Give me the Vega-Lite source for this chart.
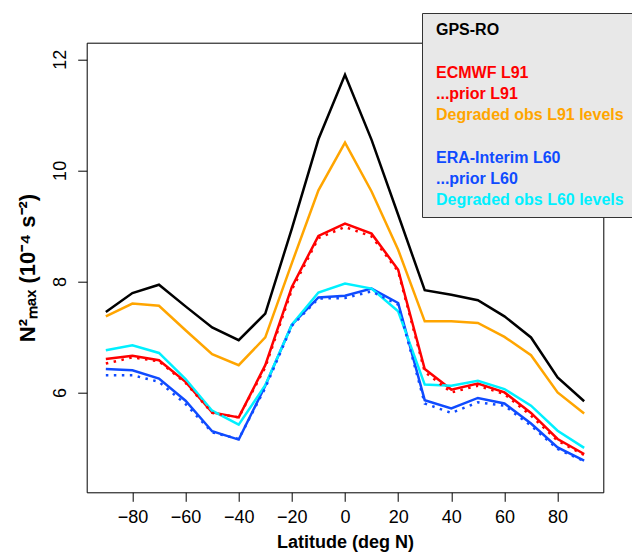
{
  "$schema": "https://vega.github.io/schema/vega-lite/v6.json",
  "width": 516.6,
  "height": 449.6,
  "autosize": {"type": "none"},
  "padding": {"left": 86.7, "top": 42.7, "right": 28.7, "bottom": 61.7},
  "background": "white",
  "config": {"view": {"stroke": "black", "strokeWidth": 1}, "font": "Liberation Sans"},
  "data": {"values": [
    {"lat":-90,"s":"GPS-RO","v":7.45},{"lat":-80,"s":"GPS-RO","v":7.79},{"lat":-70,"s":"GPS-RO","v":7.94},{"lat":-60,"s":"GPS-RO","v":7.55},{"lat":-50,"s":"GPS-RO","v":7.17},{"lat":-40,"s":"GPS-RO","v":6.94},{"lat":-30,"s":"GPS-RO","v":7.42},{"lat":-20,"s":"GPS-RO","v":8.95},{"lat":-10,"s":"GPS-RO","v":10.56},{"lat":0,"s":"GPS-RO","v":11.72},{"lat":10,"s":"GPS-RO","v":10.55},{"lat":20,"s":"GPS-RO","v":9.2},{"lat":30,"s":"GPS-RO","v":7.84},{"lat":40,"s":"GPS-RO","v":7.76},{"lat":50,"s":"GPS-RO","v":7.66},{"lat":60,"s":"GPS-RO","v":7.37},{"lat":70,"s":"GPS-RO","v":6.99},{"lat":80,"s":"GPS-RO","v":6.27},{"lat":90,"s":"GPS-RO","v":5.84},
    {"lat":-90,"s":"ECMWF L91","v":6.6},{"lat":-80,"s":"ECMWF L91","v":6.66},{"lat":-70,"s":"ECMWF L91","v":6.58},{"lat":-60,"s":"ECMWF L91","v":6.19},{"lat":-50,"s":"ECMWF L91","v":5.64},{"lat":-40,"s":"ECMWF L91","v":5.55},{"lat":-30,"s":"ECMWF L91","v":6.49},{"lat":-20,"s":"ECMWF L91","v":7.9},{"lat":-10,"s":"ECMWF L91","v":8.82},{"lat":0,"s":"ECMWF L91","v":9.04},{"lat":10,"s":"ECMWF L91","v":8.86},{"lat":20,"s":"ECMWF L91","v":8.21},{"lat":30,"s":"ECMWF L91","v":6.42},{"lat":40,"s":"ECMWF L91","v":6.05},{"lat":50,"s":"ECMWF L91","v":6.16},{"lat":60,"s":"ECMWF L91","v":6.0},{"lat":70,"s":"ECMWF L91","v":5.63},{"lat":80,"s":"ECMWF L91","v":5.16},{"lat":90,"s":"ECMWF L91","v":4.89},
    {"lat":-90,"s":"Degraded obs L91 levels","v":7.37},{"lat":-80,"s":"Degraded obs L91 levels","v":7.6},{"lat":-70,"s":"Degraded obs L91 levels","v":7.56},{"lat":-60,"s":"Degraded obs L91 levels","v":7.12},{"lat":-50,"s":"Degraded obs L91 levels","v":6.69},{"lat":-40,"s":"Degraded obs L91 levels","v":6.49},{"lat":-30,"s":"Degraded obs L91 levels","v":6.99},{"lat":-20,"s":"Degraded obs L91 levels","v":8.33},{"lat":-10,"s":"Degraded obs L91 levels","v":9.64},{"lat":0,"s":"Degraded obs L91 levels","v":10.5},{"lat":10,"s":"Degraded obs L91 levels","v":9.62},{"lat":20,"s":"Degraded obs L91 levels","v":8.57},{"lat":30,"s":"Degraded obs L91 levels","v":7.28},{"lat":40,"s":"Degraded obs L91 levels","v":7.28},{"lat":50,"s":"Degraded obs L91 levels","v":7.25},{"lat":60,"s":"Degraded obs L91 levels","v":7.0},{"lat":70,"s":"Degraded obs L91 levels","v":6.67},{"lat":80,"s":"Degraded obs L91 levels","v":6.0},{"lat":90,"s":"Degraded obs L91 levels","v":5.62},
    {"lat":-90,"s":"ERA-Interim L60","v":6.42},{"lat":-80,"s":"ERA-Interim L60","v":6.4},{"lat":-70,"s":"ERA-Interim L60","v":6.25},{"lat":-60,"s":"ERA-Interim L60","v":5.85},{"lat":-50,"s":"ERA-Interim L60","v":5.3},{"lat":-40,"s":"ERA-Interim L60","v":5.15},{"lat":-30,"s":"ERA-Interim L60","v":6.12},{"lat":-20,"s":"ERA-Interim L60","v":7.22},{"lat":-10,"s":"ERA-Interim L60","v":7.71},{"lat":0,"s":"ERA-Interim L60","v":7.74},{"lat":10,"s":"ERA-Interim L60","v":7.87},{"lat":20,"s":"ERA-Interim L60","v":7.61},{"lat":30,"s":"ERA-Interim L60","v":5.86},{"lat":40,"s":"ERA-Interim L60","v":5.71},{"lat":50,"s":"ERA-Interim L60","v":5.9},{"lat":60,"s":"ERA-Interim L60","v":5.8},{"lat":70,"s":"ERA-Interim L60","v":5.44},{"lat":80,"s":"ERA-Interim L60","v":5.01},{"lat":90,"s":"ERA-Interim L60","v":4.77},
    {"lat":-90,"s":"Degraded obs L60 levels","v":6.76},{"lat":-80,"s":"Degraded obs L60 levels","v":6.85},{"lat":-70,"s":"Degraded obs L60 levels","v":6.71},{"lat":-60,"s":"Degraded obs L60 levels","v":6.24},{"lat":-50,"s":"Degraded obs L60 levels","v":5.67},{"lat":-40,"s":"Degraded obs L60 levels","v":5.42},{"lat":-30,"s":"Degraded obs L60 levels","v":6.13},{"lat":-20,"s":"Degraded obs L60 levels","v":7.22},{"lat":-10,"s":"Degraded obs L60 levels","v":7.8},{"lat":0,"s":"Degraded obs L60 levels","v":7.96},{"lat":10,"s":"Degraded obs L60 levels","v":7.87},{"lat":20,"s":"Degraded obs L60 levels","v":7.46},{"lat":30,"s":"Degraded obs L60 levels","v":6.14},{"lat":40,"s":"Degraded obs L60 levels","v":6.12},{"lat":50,"s":"Degraded obs L60 levels","v":6.21},{"lat":60,"s":"Degraded obs L60 levels","v":6.06},{"lat":70,"s":"Degraded obs L60 levels","v":5.76},{"lat":80,"s":"Degraded obs L60 levels","v":5.31},{"lat":90,"s":"Degraded obs L60 levels","v":5.0},
    {"lat":-90,"s":"...prior L91","v":6.52},{"lat":-80,"s":"...prior L91","v":6.63},{"lat":-70,"s":"...prior L91","v":6.56},{"lat":-60,"s":"...prior L91","v":6.17},{"lat":-50,"s":"...prior L91","v":5.63},{"lat":-40,"s":"...prior L91","v":5.55},{"lat":-30,"s":"...prior L91","v":6.45},{"lat":-20,"s":"...prior L91","v":7.85},{"lat":-10,"s":"...prior L91","v":8.78},{"lat":0,"s":"...prior L91","v":8.98},{"lat":10,"s":"...prior L91","v":8.81},{"lat":20,"s":"...prior L91","v":8.18},{"lat":30,"s":"...prior L91","v":6.37},{"lat":40,"s":"...prior L91","v":6.0},{"lat":50,"s":"...prior L91","v":6.12},{"lat":60,"s":"...prior L91","v":5.97},{"lat":70,"s":"...prior L91","v":5.58},{"lat":80,"s":"...prior L91","v":5.13},{"lat":90,"s":"...prior L91","v":4.87},
    {"lat":-90,"s":"...prior L60","v":6.31},{"lat":-80,"s":"...prior L60","v":6.31},{"lat":-70,"s":"...prior L60","v":6.19},{"lat":-60,"s":"...prior L60","v":5.79},{"lat":-50,"s":"...prior L60","v":5.28},{"lat":-40,"s":"...prior L60","v":5.16},{"lat":-30,"s":"...prior L60","v":6.08},{"lat":-20,"s":"...prior L60","v":7.2},{"lat":-10,"s":"...prior L60","v":7.69},{"lat":0,"s":"...prior L60","v":7.7},{"lat":10,"s":"...prior L60","v":7.82},{"lat":20,"s":"...prior L60","v":7.58},{"lat":30,"s":"...prior L60","v":5.8},{"lat":40,"s":"...prior L60","v":5.63},{"lat":50,"s":"...prior L60","v":5.82},{"lat":60,"s":"...prior L60","v":5.76},{"lat":70,"s":"...prior L60","v":5.4},{"lat":80,"s":"...prior L60","v":4.98},{"lat":90,"s":"...prior L60","v":4.76}
  ]},
  "encoding": {
    "x": {"field": "lat", "type": "quantitative",
      "scale": {"domain": [-97.2, 97.2], "nice": false, "zero": false},
      "axis": {"values": [-80,-60,-40,-20,0,20,40,60,80], "format": "d", "grid": false, "domain": false,
        "tickSize": 9, "tickColor": "black", "tickWidth": 1,
        "labelFontSize": 18, "labelColor": "black", "labelPadding": 7, "labelFont": "Liberation Sans",
        "title": "Latitude (deg N)", "titleFontSize": 18, "titleFontWeight": "bold", "titleColor": "black", "titlePadding": 7, "titleFont": "Liberation Sans"}},
    "y": {"field": "v", "type": "quantitative",
      "scale": {"domain": [4.2, 12.3], "nice": false, "zero": false},
      "axis": {"values": [6,8,10,12], "format": "d", "grid": false, "domain": false,
        "tickSize": 9, "tickColor": "black", "tickWidth": 1,
        "labelFontSize": 18, "labelColor": "black", "labelPadding": 8, "labelAngle": 270, "labelFont": "Liberation Sans",
        "title": "N²ₘₐₓ  (10⁻⁴ s⁻²)", "titleFontSize": 22, "titleFontWeight": "bold", "titleColor": "black", "titlePadding": 12, "titleFont": "Liberation Sans"}},
    "color": {"field": "s", "type": "nominal",
      "scale": {
        "domain": ["GPS-RO", " ", "ECMWF L91", "...prior L91", "Degraded obs L91 levels", "  ", "ERA-Interim L60", "...prior L60", "Degraded obs L60 levels"],
        "range": ["#000000", "#e8e8e8", "#ff0000", "#ff0000", "#ffa500", "#e8e8e8", "#0f4bff", "#0f4bff", "#00f0ff"]},
      "legend": {"title": null, "orient": "none", "legendX": 335.3, "legendY": -29.7,
        "fillColor": "#e8e8e8", "strokeColor": "#333333", "padding": 9,
        "labelFont": "Liberation Sans", "labelFontSize": 16, "labelFontWeight": "bold", "labelLimit": 400,
        "symbolSize": 0, "symbolOpacity": 0, "symbolStrokeWidth": 0, "labelOffset": -11, "rowPadding": 5.25,
        "encode": {"labels": {"update": {"fill": {"scale": "color", "field": "value"}}}}}}
  },
  "layer": [
    {"transform": [{"filter": "indexof(datum.s, 'prior') < 0"}],
     "mark": {"type": "line", "strokeWidth": 2.5}},
    {"transform": [{"filter": "indexof(datum.s, 'prior') >= 0"}],
     "mark": {"type": "line", "strokeWidth": 2.5, "strokeDash": [2.5, 5.5], "strokeCap": "butt"}}
  ]
}
